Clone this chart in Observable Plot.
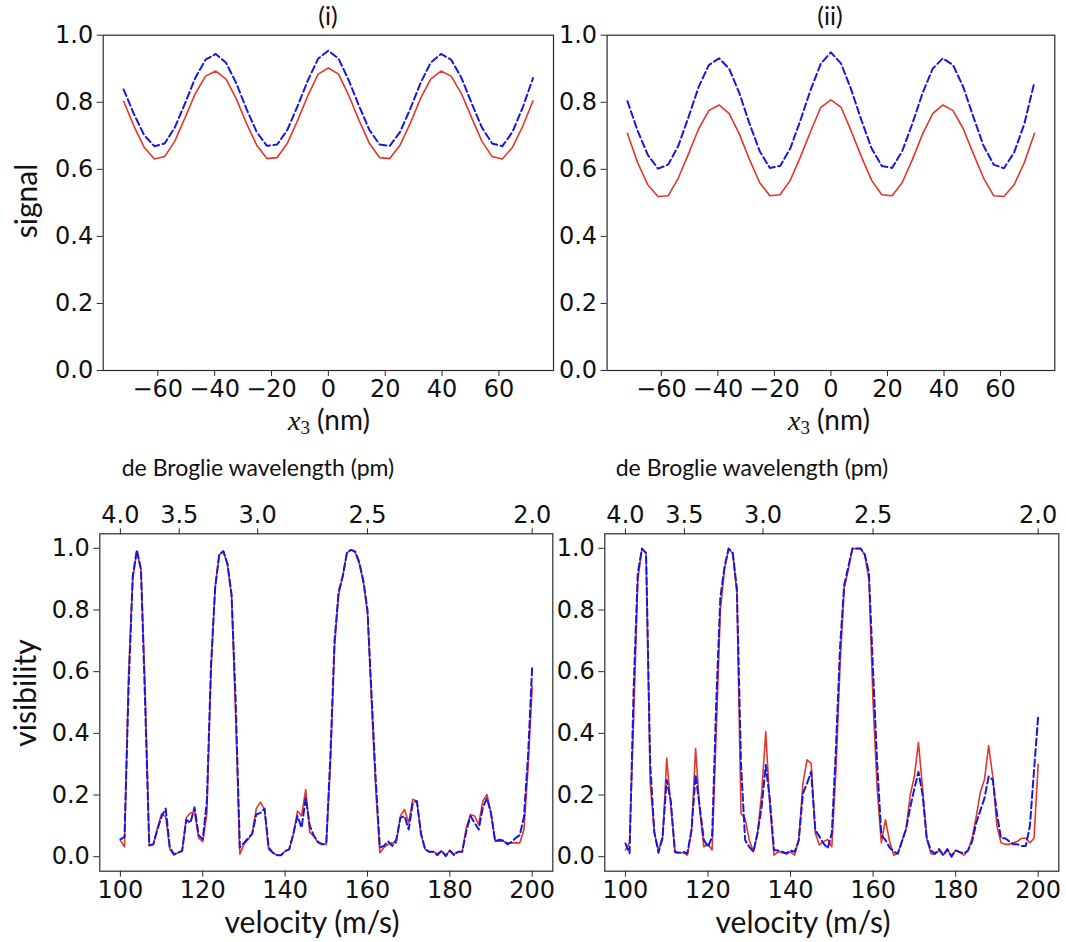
<!DOCTYPE html>
<html>
<head>
<meta charset="utf-8">
<script src="https://cdn.jsdelivr.net/npm/d3@7"></script>
<script src="https://cdn.jsdelivr.net/npm/@observablehq/plot@0.6"></script>
<style>
  html, body { margin: 0; padding: 0; background: #fff; }
  #root { position: relative; width: 1066px; height: 942px; overflow: hidden; background: #fff; }
  .pn { position: absolute; }
  .lbl { position: absolute; transform: translate(-50%, -50%); font-family: Lato, "Open Sans", sans-serif; color: #111; white-space: nowrap; line-height: 1; }
  .rot { transform: translate(-50%, -50%) rotate(-90deg); }
  .mx { font-family: "Liberation Serif", "DejaVu Serif", serif; font-style: italic; }
  sub { font-size: 0.68em; vertical-align: -0.25em; font-family: "Liberation Serif", serif; }
</style>
</head>
<body>
<div id="root"></div>
<script>
// ---------- data ----------
const xNm = [-72, -68.4, -64.8, -61.2, -57.6, -54, -50.4, -46.8, -43.2, -39.6, -36, -32.4, -28.8, -25.2, -21.6, -18, -14.4, -10.8, -7.2, -3.6, 0,
  3.6, 7.2, 10.8, 14.4, 18, 21.6, 25.2, 28.8, 32.4, 36, 39.6, 43.2, 46.8, 50.4, 54, 57.6, 61.2, 64.8, 68.4, 72];

const signalRed1 = [0.803, 0.729, 0.666, 0.631, 0.638, 0.684, 0.754, 0.826, 0.878, 0.893, 0.869, 0.811, 0.737, 0.672, 0.632, 0.635, 0.678, 0.746, 0.820, 0.884, 0.902,
  0.884, 0.820, 0.746, 0.678, 0.635, 0.632, 0.672, 0.737, 0.811, 0.869, 0.893, 0.878, 0.826, 0.754, 0.684, 0.638, 0.631, 0.666, 0.729, 0.804];
const signalBlue1 = [0.838, 0.765, 0.702, 0.669, 0.677, 0.725, 0.797, 0.873, 0.927, 0.944, 0.918, 0.857, 0.780, 0.711, 0.670, 0.674, 0.718, 0.789, 0.865, 0.930, 0.954,
  0.930, 0.865, 0.789, 0.718, 0.674, 0.670, 0.711, 0.780, 0.857, 0.918, 0.944, 0.927, 0.873, 0.797, 0.725, 0.677, 0.669, 0.712, 0.785, 0.872];
const signalRed2 = [0.707, 0.620, 0.554, 0.519, 0.521, 0.574, 0.646, 0.721, 0.775, 0.792, 0.766, 0.705, 0.629, 0.560, 0.521, 0.524, 0.567, 0.637, 0.713, 0.785, 0.807,
  0.785, 0.713, 0.637, 0.567, 0.524, 0.521, 0.560, 0.629, 0.705, 0.766, 0.792, 0.775, 0.721, 0.646, 0.574, 0.521, 0.519, 0.554, 0.620, 0.707];
const signalBlue2 = [0.803, 0.715, 0.643, 0.602, 0.614, 0.670, 0.756, 0.846, 0.911, 0.931, 0.900, 0.827, 0.736, 0.654, 0.604, 0.610, 0.662, 0.746, 0.837, 0.915, 0.949,
  0.915, 0.837, 0.746, 0.662, 0.610, 0.604, 0.654, 0.736, 0.827, 0.900, 0.931, 0.911, 0.846, 0.756, 0.670, 0.614, 0.603, 0.650, 0.735, 0.860];

const velocity = [100, 101, 102, 103, 104, 105, 106, 107, 108, 109, 110, 111, 112, 113, 114, 115, 116, 117, 118, 119,
  120, 121, 122, 123, 124, 125, 126, 127, 128, 129, 130, 131, 132, 133, 134, 135, 136, 137, 138, 139,
  140, 141, 142, 143, 144, 145, 146, 147, 148, 149, 150, 151, 152, 153, 154, 155, 156, 157, 158, 159,
  160, 161, 162, 163, 164, 165, 166, 167, 168, 169, 170, 171, 172, 173, 174, 175, 176, 177, 178, 179,
  180, 181, 182, 183, 184, 185, 186, 187, 188, 189, 190, 191, 192, 193, 194, 195, 196, 197, 198, 199, 200];

const visRed1 = [0.053, 0.032, 0.60, 0.90, 0.99, 0.93, 0.55, 0.035, 0.04, 0.094, 0.139, 0.13, 0.024, 0.005, 0.013, 0.018, 0.126, 0.142, 0.145, 0.061,
  0.049, 0.14, 0.60, 0.873, 0.978, 0.991, 0.946, 0.844, 0.45, 0.008, 0.04, 0.056, 0.074, 0.156, 0.177, 0.153, 0.024, 0.013, 0.005, 0.005,
  0.018, 0.024, 0.072, 0.148, 0.132, 0.218, 0.078, 0.067, 0.045, 0.04, 0.04, 0.30, 0.68, 0.85, 0.91, 0.985, 0.995, 0.987, 0.95, 0.89,
  0.79, 0.50, 0.22, 0.013, 0.03, 0.04, 0.045, 0.045, 0.132, 0.153, 0.11, 0.186, 0.18, 0.072, 0.024, 0.016, 0.016, 0.01, 0.018, 0.005,
  0.02, 0.008, 0.016, 0.016, 0.094, 0.137, 0.132, 0.105, 0.18, 0.202, 0.142, 0.05, 0.05, 0.05, 0.045, 0.045, 0.045, 0.045, 0.088, 0.29, 0.552];
const visBlue1 = [0.056, 0.064, 0.55, 0.91, 0.995, 0.93, 0.50, 0.038, 0.04, 0.088, 0.13, 0.156, 0.03, 0.008, 0.013, 0.02, 0.12, 0.11, 0.16, 0.07,
  0.056, 0.18, 0.62, 0.87, 0.98, 0.99, 0.95, 0.85, 0.50, 0.03, 0.045, 0.06, 0.074, 0.137, 0.142, 0.156, 0.03, 0.013, 0.005, 0.005,
  0.018, 0.024, 0.075, 0.132, 0.094, 0.19, 0.10, 0.067, 0.048, 0.04, 0.045, 0.33, 0.70, 0.86, 0.91, 0.985, 0.995, 0.99, 0.955, 0.895,
  0.80, 0.52, 0.25, 0.03, 0.035, 0.05, 0.035, 0.056, 0.126, 0.132, 0.088, 0.175, 0.18, 0.075, 0.024, 0.016, 0.016, 0.005, 0.02, 0.002,
  0.02, 0.005, 0.016, 0.016, 0.083, 0.132, 0.11, 0.088, 0.159, 0.19, 0.14, 0.05, 0.055, 0.052, 0.04, 0.048, 0.061, 0.07, 0.13, 0.33, 0.617];

const visRed2 = [0.022, 0.045, 0.45, 0.897, 0.999, 0.983, 0.24, 0.076, 0.022, 0.054, 0.319, 0.162, 0.013, 0.013, 0.013, 0.005, 0.081, 0.351, 0.151, 0.032,
  0.041, 0.022, 0.40, 0.80, 0.93, 0.999, 0.983, 0.854, 0.14, 0.124, 0.054, 0.016, 0.076, 0.205, 0.405, 0.162, 0.005, 0.016, 0.013, 0.009,
  0.016, 0.005, 0.054, 0.238, 0.314, 0.303, 0.076, 0.038, 0.049, 0.056, 0.032, 0.28, 0.62, 0.87, 0.93, 0.999, 0.999, 0.999, 0.978, 0.897,
  0.50, 0.22, 0.045, 0.12, 0.05, 0.005, 0.01, 0.05, 0.09, 0.20, 0.26, 0.37, 0.22, 0.06, 0.01, 0.008, 0.02, 0.005, 0.02, 0.005,
  0.02, 0.015, 0.005, 0.02, 0.06, 0.13, 0.21, 0.25, 0.36, 0.26, 0.10, 0.045, 0.04, 0.04, 0.045, 0.05, 0.06, 0.06, 0.045, 0.06, 0.30];
const visBlue2 = [0.043, 0.011, 0.55, 0.92, 0.999, 0.985, 0.30, 0.08, 0.013, 0.065, 0.249, 0.18, 0.016, 0.013, 0.016, 0.011, 0.086, 0.265, 0.162, 0.054,
  0.032, 0.065, 0.50, 0.84, 0.94, 0.999, 0.985, 0.87, 0.30, 0.054, 0.032, 0.016, 0.076, 0.162, 0.297, 0.184, 0.022, 0.02, 0.016, 0.011,
  0.02, 0.016, 0.054, 0.205, 0.238, 0.276, 0.086, 0.065, 0.043, 0.027, 0.076, 0.35, 0.68, 0.88, 0.94, 0.999, 0.999, 0.999, 0.98, 0.92,
  0.60, 0.30, 0.07, 0.054, 0.03, 0.016, 0.01, 0.05, 0.09, 0.16, 0.22, 0.275, 0.20, 0.06, 0.02, 0.01, 0.025, 0.005, 0.025, 0.0,
  0.02, 0.015, 0.01, 0.02, 0.05, 0.11, 0.15, 0.19, 0.26, 0.25, 0.14, 0.06, 0.06, 0.05, 0.04, 0.04, 0.035, 0.035, 0.10, 0.28, 0.455];

const signalTicks = [0, 0.2, 0.4, 0.6, 0.8, 1.0];
const x3Ticks = [-60, -40, -20, 0, 20, 40, 60];
const visTicks = [0, 0.2, 0.4, 0.6, 0.8, 1.0];
const velTicks = [100, 120, 140, 160, 180, 200];
const lambdaTicks = [4.0, 3.5, 3.0, 2.5, 2.0];   // pm; lambda = 400 / v
const panelTitles = ["(i)", "(ii)"];

// ---------- style ----------
const RED = "#e2372b";
const BLUE = "#1717de";
const AXIS = "#2b2b2b";
const TICKFONT = 24;
const fmtMinus = d => (d < 0 ? "\u2212" + Math.abs(d) : String(d));
const fmt1 = d => d.toFixed(1);

const baseStyle = { fontFamily: "'DejaVu Sans', sans-serif", fontSize: "24px", background: "transparent", color: "#111", overflow: "visible" };

function toRows(xs, ys) { return xs.map((x, i) => ({ x, y: ys[i] })); }

function lines(xs, red, blue) {
  return [
    Plot.line(toRows(xs, red), { x: "x", y: "y", stroke: RED, strokeWidth: 1.6 }),
    Plot.line(toRows(xs, blue), { x: "x", y: "y", stroke: BLUE, strokeWidth: 2, strokeDasharray: "7,3.5" })
  ];
}

const axisCommon = { tickSize: 6, label: null, stroke: AXIS, fontSize: TICKFONT, fontFamily: "DejaVu Sans" };

function topPanel(red, blue, m) {
  return Plot.plot({
    width: m.width, height: m.height,
    marginLeft: m.left, marginRight: m.right, marginTop: m.top, marginBottom: m.bottom,
    style: baseStyle,
    x: { domain: [-79.2, 79.2] },
    y: { domain: [0, 1] },
    marks: [
      Plot.axisY({ ...axisCommon, ticks: signalTicks, tickFormat: fmt1, tickPadding: 4 }),
      Plot.axisX({ ...axisCommon, ticks: x3Ticks, tickFormat: fmtMinus, tickPadding: 3 }),
      ...lines(xNm, red, blue),
      Plot.frame({ stroke: AXIS, strokeWidth: 1.2 })
    ]
  });
}

function bottomPanel(red, blue, m) {
  return Plot.plot({
    width: m.width, height: m.height,
    marginLeft: m.left, marginRight: m.right, marginTop: m.top, marginBottom: m.bottom,
    style: baseStyle,
    x: { domain: [95, 205] },
    y: { domain: [-0.047, 1.047] },
    marks: [
      Plot.axisY({ ...axisCommon, ticks: visTicks, tickFormat: fmt1, tickPadding: 4 }),
      Plot.axisX({ ...axisCommon, ticks: velTicks, tickFormat: d => String(d), tickPadding: 4 }),
      Plot.axisX({ ...axisCommon, anchor: "top", ticks: lambdaTicks.map(l => 400 / l), tickFormat: v => (400 / v).toFixed(1), tickPadding: 5 }),
      ...lines(velocity, red, blue),
      Plot.frame({ stroke: AXIS, strokeWidth: 1.2 })
    ]
  });
}

const root = document.getElementById("root");
function place(el, left, top) {
  el.classList.add("pn");
  el.style.left = left + "px";
  el.style.top = top + "px";
  root.appendChild(el);
}

// top-left: frame x 102.7..553, y 34.7..370
place(topPanel(signalRed1, signalBlue1, { width: 560, height: 410, left: 102.7, right: 7, top: 34.7, bottom: 40 }), 0, 0);
// top-right: frame x 606.6..1054.3
place(topPanel(signalRed2, signalBlue2, { width: 511, height: 410, left: 51.6, right: 11.7, top: 34.7, bottom: 40 }), 555, 0);
// bottom-left: frame x 99.3..552.3, y 533.3..870.7
place(bottomPanel(visRed1, visBlue1, { width: 560, height: 500, left: 99.3, right: 7.7, top: 93.3, bottom: 69.3 }), 0, 440);
// bottom-right: frame x 604.3..1058.3
place(bottomPanel(visRed2, visBlue2, { width: 511, height: 500, left: 49.3, right: 7.7, top: 93.3, bottom: 69.3 }), 555, 440);

function label(html, x, y, size, rot) {
  const d = document.createElement("div");
  d.className = "lbl" + (rot ? " rot" : "");
  d.style.left = x + "px";
  d.style.top = y + "px";
  d.style.fontSize = size + "px";
  d.innerHTML = html;
  root.appendChild(d);
}

label(panelTitles[0], 328, 15, 25);
label(panelTitles[1], 830, 15, 25);
label("signal", 25, 201, 30, true);
label("visibility", 24, 693, 30, true);
const x3 = '<span class="mx">x</span><sub>3</sub> (nm)';
label(x3, 329, 421, 28);
label(x3, 829, 421, 28);
label("de Broglie wavelength (pm)", 258, 467, 23);
label("de Broglie wavelength (pm)", 752, 467, 23);
label("velocity (m/s)", 312, 921, 30);
label("velocity (m/s)", 803, 921, 30);
</script>
</body>
</html>
